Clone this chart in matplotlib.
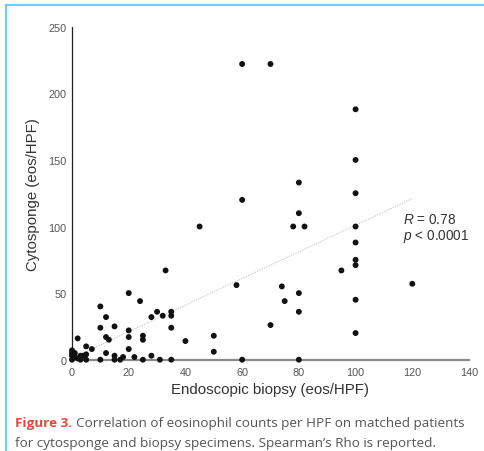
import matplotlib
matplotlib.use("Agg")
import matplotlib.pyplot as plt
from matplotlib.lines import Line2D
import numpy as np

plt.rcParams['font.family'] = ['Liberation Sans', 'DejaVu Sans']
plt.rcParams['mathtext.fontset'] = 'custom'
plt.rcParams['mathtext.it'] = 'Liberation Sans:italic'
plt.rcParams['mathtext.rm'] = 'Liberation Sans'

# Data: endoscopic biopsy (x) vs cytosponge (y), eos/HPF
biopsy = [0, 0, 0, 0, 1, 1, 2, 3, 4, 5, 3, 5,
          2, 5, 7,
          10, 10, 10,
          12, 12, 13, 12,
          15, 15, 15, 17, 18,
          20, 20, 20, 20,
          22, 24, 25, 25, 25,
          28, 28, 30, 31, 32,
          33, 35, 35, 35, 35,
          40, 45, 50, 50,
          58, 60, 60, 60,
          70, 70, 74, 75,
          78, 80, 80, 80, 80, 80, 82,
          95, 100, 100, 100, 100, 100, 100, 100, 100, 100,
          120]
cytosponge = [0, 3, 5, 7, 2, 5, 1, 3, 3, 4, 0, 0,
              16, 10, 8,
              40, 24, 0,
              32, 17, 15, 5,
              25, 3, 0, 0, 2,
              50, 22, 17, 8,
              2, 44, 18, 15, 0,
              32, 3, 36, 0, 33,
              67, 36, 33, 24, 0,
              14, 100, 18, 6,
              56, 222, 120, 0,
              222, 26, 55, 44,
              100, 133, 110, 50, 36, 0, 100,
              67, 188, 150, 125, 100, 88, 75, 71, 45, 20,
              57]

fit_slope = 1.0
fit_intercept = 1.0
fit_range = [3, 120]
stats_lines = ["$R$ = 0.78", "$p$ < 0.0001"]

xticks = [0, 20, 40, 60, 80, 100, 120, 140]
yticks = [0, 50, 100, 150, 200, 250]

fig = plt.figure(figsize=(4.85, 4.52), dpi=100)
ax = fig.add_axes([72/485, 91.3/452, 397/485, 333/452])

fx = np.array(fit_range, dtype=float)
ax.plot(fx, fit_slope * fx + fit_intercept, linestyle=(0, (1, 1)),
        color='#cccccc', linewidth=0.9, zorder=1)
ax.scatter(biopsy, cytosponge, s=18, color='#111111', edgecolors='none',
           zorder=3, clip_on=False)

ax.set_xlim(0, 140)
ax.set_ylim(0, 250)
ax.set_xticks(xticks)
ax.set_yticks(yticks)
ax.tick_params(axis='both', length=0, labelsize=7.8, labelcolor='#555555')
ax.tick_params(axis='x', pad=5)
ax.tick_params(axis='y', pad=4)

for s in ['top', 'right']:
    ax.spines[s].set_visible(False)
ax.spines['left'].set_color('#222222')
ax.spines['left'].set_linewidth(0.9)
ax.spines['bottom'].set_color('#8a8a8a')
ax.spines['bottom'].set_linewidth(1.6)
ax.spines['bottom'].set_zorder(2)

ax.set_xlabel('Endoscopic biopsy (eos/HPF)', fontsize=10.8, color='#333333',
              labelpad=4)
ax.set_ylabel('Cytosponge (eos/HPF)', fontsize=10.8, color='#333333',
              labelpad=6)

ax.text(116.7, 105.6, stats_lines[0], fontsize=9.8, color='#333333',
        va='center', ha='left')
ax.text(116.7, 93.1, stats_lines[1], fontsize=9.8, color='#333333',
        va='center', ha='left')

# Caption
cap_font = ['Open Sans', 'DejaVu Sans']
cap_size = 9.7
t1 = fig.text(15/485, 1 - 423.5/452, 'Figure 3.', fontsize=cap_size,
              color='#e0483c', fontweight='bold', family=cap_font,
              va='center', ha='left')
fig.canvas.draw()
bb = t1.get_window_extent()
fig.text((bb.x1 + 4)/485, 1 - 423.5/452,
         'Correlation of eosinophil counts per HPF on matched patients',
         fontsize=cap_size, color='#555555', family=cap_font,
         va='center', ha='left')
fig.text(15/485, 1 - 444/452,
         "for cytosponge and biopsy specimens. Spearman\u2019s Rho is reported.",
         fontsize=cap_size, color='#555555', family=cap_font,
         va='center', ha='left')

# Blue frame (top and left)
fig.add_artist(Line2D([6/485, 1.0], [1 - 5.5/452, 1 - 5.5/452],
                      transform=fig.transFigure, color='#6ccff8', linewidth=1.6))
fig.add_artist(Line2D([6/485, 6/485], [0, 1 - 5.5/452],
                      transform=fig.transFigure, color='#6ccff8', linewidth=1.6))

fig.savefig('out.png', dpi=100)
